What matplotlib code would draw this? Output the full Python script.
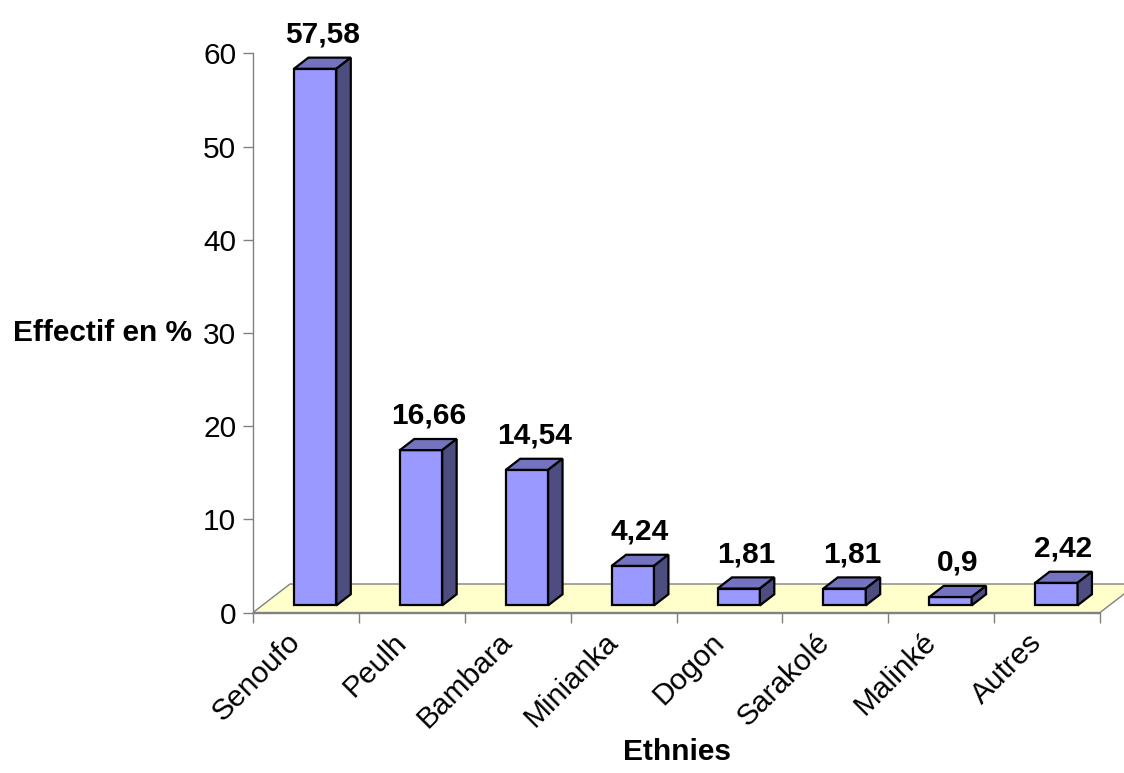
import numpy as np
import matplotlib.pyplot as plt
from matplotlib.patches import Polygon

plt.rcParams['font.family'] = ['Liberation Sans', 'DejaVu Sans']

ethnies = ["Senoufo", "Peulh", "Bambara", "Minianka", "Dogon",
           "Sarakolé", "Malinké", "Autres"]
effectif = [57.58, 16.66, 14.54, 4.24, 1.81, 1.81, 0.9, 2.42]
labels = ["57,58", "16,66", "14,54", "4,24", "1,81", "1,81", "0,9", "2,42"]
yticks = [0, 10, 20, 30, 40, 50, 60]

fs = 21.5

fig = plt.figure(figsize=(11.24, 7.73), dpi=100)
ax = fig.add_axes([0.2251, 0.2076, 0.7536, 0.7234])
ax.set_xlim(0, len(ethnies))
ax.set_ylim(0, 60)

# depth of the floor, in data units (x, y)
dx, dy = 0.349, 3.06
f0, f1 = 0.25, 0.64   # front and back of the bars within the floor depth
w = 0.4
n = len(ethnies)

floor = Polygon([(0, 0), (n, 0), (n + dx, dy), (dx, dy)], closed=True,
                facecolor="#FFFFCC", edgecolor="#808080", lw=1,
                clip_on=False, zorder=1)
ax.add_patch(floor)

front_c, top_c, side_c = "#9999FF", "#7373BF", "#4D4D80"
for i, v in enumerate(effectif):
    x0 = i + 0.5 - w / 2 + f0 * dx
    y0 = f0 * dy
    ddx, ddy = (f1 - f0) * dx, (f1 - f0) * dy
    front = [(x0, y0), (x0 + w, y0), (x0 + w, y0 + v), (x0, y0 + v)]
    top = [(x0, y0 + v), (x0 + w, y0 + v), (x0 + w + ddx, y0 + v + ddy),
           (x0 + ddx, y0 + v + ddy)]
    side = [(x0 + w, y0), (x0 + w + ddx, y0 + ddy),
            (x0 + w + ddx, y0 + v + ddy), (x0 + w, y0 + v)]
    for pts, c in ((front, front_c), (top, top_c), (side, side_c)):
        ax.add_patch(Polygon(pts, closed=True, facecolor=c, edgecolor="black",
                             lw=1.6, joinstyle="miter", clip_on=False,
                             zorder=3))
    xm = i + 0.5 + 0.445 * dx
    ym = v + 0.445 * dy
    ax.annotate(labels[i], (xm, ym), xytext=(0, 15), textcoords="offset points",
                ha="center", va="baseline", fontsize=fs, fontweight="bold",
                annotation_clip=False, zorder=5)

for s in ("top", "right"):
    ax.spines[s].set_visible(False)
for s in ("left", "bottom"):
    ax.spines[s].set_color("#808080")
    ax.spines[s].set_linewidth(1)
    ax.spines[s].set_zorder(2)

ax.set_yticks(yticks)
ax.set_yticklabels([str(t) for t in yticks])
ax.tick_params(axis="y", length=7, width=1, color="#808080", pad=5,
               labelsize=fs)

ax.set_xticks(np.arange(n + 1))
ax.set_xticklabels([])
ax.set_xticks(np.arange(n) + 0.5, minor=True)
ax.set_xticklabels(ethnies, minor=True, rotation=45, ha="right", va="top",
                   fontsize=fs)
ax.tick_params(axis="x", which="major", length=7, width=1, color="#808080",
               direction="out")
ax.tick_params(axis="x", which="minor", length=0, pad=11)

ax.set_ylabel("Effectif en %", rotation=0, ha="right", va="center",
              fontsize=fs, fontweight="bold")
ax.yaxis.set_label_coords(-0.072, 0.5)
ax.set_xlabel("Ethnies", fontsize=fs, fontweight="bold", va="center")
ax.xaxis.set_label_coords(0.5, -0.25)

fig.savefig("out.png", dpi=100)
